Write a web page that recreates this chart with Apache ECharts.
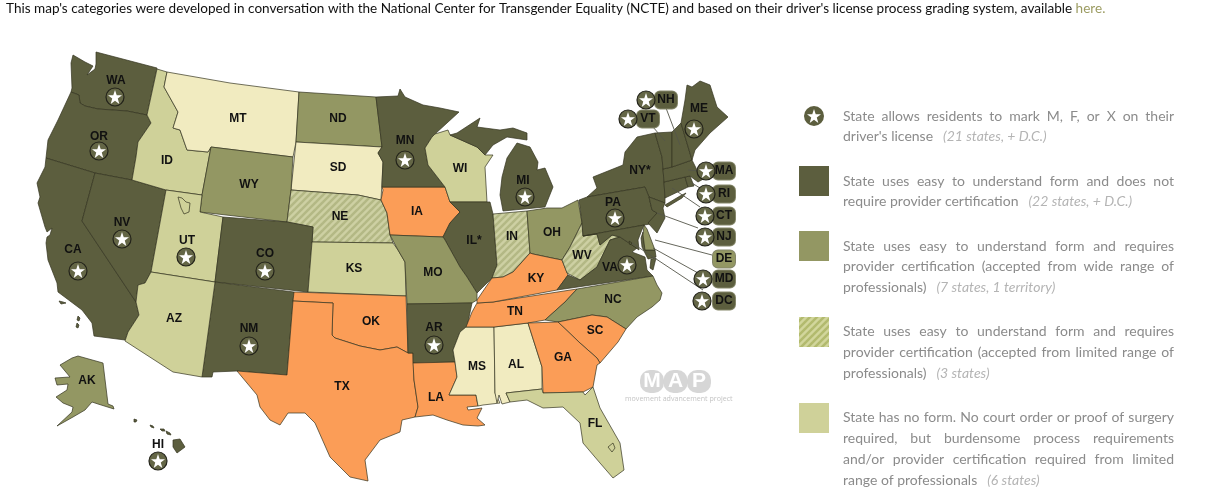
<!DOCTYPE html>
<html><head><meta charset="utf-8">
<style>html,body{margin:0;padding:0;background:#fff}#c{width:1230px;height:500px}</style>
<script src="https://cdn.jsdelivr.net/npm/echarts@6/dist/echarts.min.js"></script>
</head><body><div id="c"></div>
<script>
const CAT_DARK = ['WA','OR','CA','NV','CO','NM','AR','MN','MI','IL','NY','PA','VA','ME','NH','VT','MA','RI','CT','NJ','MD','DC','HI'];
const CAT_MID = ['ND','WY','MO','OH','NC','AK','DE'];
const CAT_HATCH = ['NE','IN','WV'];
const CAT_NOFORM = ['ID','UT','KS','AZ','WI','FL'];
const CAT_CREAM = ['MT','SD','MS','AL'];
const CAT_ORANGE = ['IA','OK','TX','LA','KY','TN','GA','SC'];
const STAR_STATES = ['WA','OR','CA','NV','UT','CO','NM','AR','MN','MI','PA','VA','ME','HI'];
const CALLOUT_STARS = ['NH','VT','MA','RI','CT','NJ','MD','DC'];
const CALLOUTS = ['NH','VT','MA','RI','CT','NJ','DE','MD','DC'];
const PLAIN_LABELS = {IL:'IL*',NY:'NY*'};

const SHAPES = {
WA:[[[96,52],[157,68],[147,115],[127,111],[98,109],[85,106],[80,103],[79,95],[71,92],[72,88],[71,63],[73,55],[85,62],[93,66],[87,75],[95,69],[96,64]]],
OR:[[[71,92],[79,95],[80,103],[85,106],[98,109],[127,111],[147,115],[151,123],[138,142],[136,157],[132,180],[95,173],[46,158],[48,140],[58,120]]],
CA:[[[46,158],[95,173],[82,221],[136,302],[139,315],[128,332],[125,340],[94,336],[92,323],[82,310],[58,292],[57,283],[48,260],[46,243],[47,237],[50,235],[52,228],[47,232],[45,227],[38,203],[40,197],[37,183],[45,167]],[[59,301],[63,302],[66,303],[61,304]],[[78,316],[80,318],[79,321],[77,320]],[[77,323],[79,325],[78,328],[76,327]]],
NV:[[[95,173],[132,180],[166,190],[151,272],[145,283],[138,285],[136,302],[82,221]]],
ID:[[[157,69],[167,72],[164,87],[178,112],[173,128],[180,130],[187,150],[208,152],[211,147],[202,195],[166,190],[132,180],[136,157],[138,142],[151,123],[147,115]]],
MT:[[[167,72],[230,83],[299,92],[296,142],[293,157],[211,147],[208,152],[187,150],[180,130],[173,128],[178,112],[164,87]]],
ND:[[[299,92],[376,97],[382,147],[296,142]]],
SD:[[[296,142],[382,147],[378,153],[383,162],[381,200],[358,195],[291,190]]],
WY:[[[211,147],[293,157],[291,190],[287,222],[200,212],[202,195]]],
NE:[[[291,190],[358,195],[381,200],[387,213],[390,235],[393,243],[312,242],[313,227],[287,222]]],
UT:[[[166,190],[202,195],[200,212],[223,217],[215,282],[151,272]],[[178,197],[182,198],[186,202],[190,203],[189,212],[184,214],[181,208]]],
CO:[[[223,217],[287,222],[313,227],[312,242],[308,292],[215,282]]],
KS:[[[312,242],[393,243],[398,250],[405,262],[406,296],[308,292]]],
NM:[[[215,282],[294,292],[293,301],[287,375],[237,371],[213,372],[212,377],[202,377]]],
AZ:[[[151,272],[215,282],[202,377],[173,372],[125,341],[128,332],[139,315],[136,302],[138,285],[145,283]]],
OK:[[[294,292],[406,296],[408,353],[397,347],[380,350],[360,346],[335,338],[332,335],[333,303],[293,301]]],
TX:[[[293,301],[333,303],[332,335],[335,338],[360,346],[380,350],[397,347],[408,353],[413,353],[414,380],[418,407],[415,417],[402,420],[400,432],[380,440],[365,460],[368,481],[350,477],[330,457],[315,423],[305,413],[288,413],[280,425],[270,420],[260,407],[257,395],[237,371],[287,375]]],
IA:[[[382,187],[445,187],[450,202],[460,212],[450,223],[443,237],[390,235],[387,213],[381,200],[383,190]]],
MN:[[[376,97],[398,96],[400,89],[405,97],[423,105],[440,108],[459,112],[435,134],[432,137],[425,148],[428,165],[445,187],[382,187],[383,162],[378,153],[382,147]]],
WI:[[[435,134],[448,130],[450,135],[477,147],[485,155],[493,155],[485,167],[487,202],[450,202],[445,187],[428,165],[425,148],[432,137]]],
IL:[[[450,202],[490,202],[493,214],[497,265],[492,278],[483,287],[477,293],[467,277],[460,267],[445,240],[443,237],[450,223],[460,212]]],
IN:[[[493,214],[527,211],[530,253],[513,272],[503,277],[492,278],[497,265]]],
OH:[[[527,211],[547,208],[562,208],[578,200],[582,223],[570,247],[562,260],[552,258],[533,254],[530,253]]],
MI:[[[503,211],[545,207],[553,187],[545,168],[537,170],[538,162],[530,147],[517,143],[507,158],[502,177],[500,195]],[[457,133],[480,118],[477,127],[500,130],[513,128],[527,133],[527,140],[507,137],[493,145],[485,155],[477,147],[450,135]]],
MO:[[[390,235],[443,237],[445,240],[460,267],[467,277],[477,293],[477,300],[472,303],[407,304],[405,262],[398,250]]],
AR:[[[407,304],[472,303],[473,304],[467,327],[460,332],[453,350],[455,362],[413,363],[413,353],[408,353]]],
LA:[[[413,363],[455,362],[457,377],[449,395],[476,395],[478,406],[467,407],[468,410],[482,408],[477,418],[485,425],[478,426],[463,425],[447,420],[433,415],[415,417],[418,407],[414,380]]],
MS:[[[466,327],[494,327],[495,393],[500,403],[483,405],[478,406],[476,395],[449,395],[457,377],[455,362],[453,350],[460,332]]],
AL:[[[494,327],[528,323],[542,367],[542,389],[506,393],[510,402],[502,404],[499,395],[497,403],[495,393]]],
TN:[[[477,303],[493,302],[577,289],[565,302],[545,320],[528,323],[494,327],[466,327],[472,312]]],
KY:[[[477,300],[492,278],[503,277],[513,272],[530,253],[533,254],[552,258],[562,260],[568,275],[557,290],[493,302],[477,303]]],
WV:[[[582,223],[583,236],[597,234],[600,245],[612,235],[620,237],[610,240],[597,267],[580,280],[567,273],[562,260],[570,247]]],
VA:[[[557,290],[568,275],[580,280],[597,267],[610,240],[620,237],[629,243],[637,248],[632,252],[645,257],[647,270],[653,276]],[[651,259],[656,258],[653,270],[650,268]]],
NC:[[[545,320],[565,302],[577,289],[653,276],[657,285],[662,293],[660,300],[652,307],[637,317],[626,329],[607,317],[592,315],[558,322]]],
SC:[[[558,322],[592,315],[607,317],[626,329],[618,342],[600,363],[597,358],[580,343]]],
GA:[[[528,323],[558,322],[580,343],[597,358],[600,363],[597,365],[593,387],[583,392],[543,393],[542,367]]],
FL:[[[506,393],[542,389],[543,393],[583,392],[585,395],[593,387],[600,408],[620,443],[624,470],[613,478],[600,463],[583,443],[580,423],[563,407],[543,408],[527,400],[510,402]],[[608,447],[613,443],[615,448],[612,452]]],
NY:[[[655,133],[637,137],[625,152],[623,165],[593,177],[597,188],[587,197],[645,187],[649,197],[665,203],[665,198],[664,182],[663,169],[662,157]],[[665,205],[680,196],[686,193],[682,198],[667,207]]],
PA:[[[579,200],[587,197],[645,187],[649,197],[652,210],[657,213],[650,224],[583,236],[582,223]]],
NJ:[[[649,197],[665,203],[663,208],[665,218],[657,233],[648,223],[657,213],[652,210]]],
CT:[[[664,182],[685,177],[688,187],[665,198]]],
RI:[[[685,177],[690,176],[694,186],[688,187]]],
MA:[[[663,169],[672,167],[692,160],[700,176],[707,177],[698,182],[690,176],[685,177],[664,182]]],
VT:[[[655,133],[672,132],[672,167],[663,169],[662,157]]],
NH:[[[672,132],[681,123],[692,160],[672,167]]],
ME:[[[681,123],[685,100],[687,85],[692,87],[700,81],[710,85],[717,107],[728,117],[710,133],[695,150],[692,160]]],
MD:[[[583,236],[644,225],[641,232],[638,240],[639,250],[629,243],[620,237],[612,235],[600,245],[597,234]],[[645,250],[655,250],[656,257],[648,259],[642,247],[641,238],[643,232]]],
DE:[[[644,225],[647,229],[655,250],[645,250],[643,235]]],
DC:[[[629,241],[632,243],[630,245]]],
HI:[[[173,440],[180,439],[185,447],[177,453],[173,447]],[[134,419],[137,420],[136,422],[134,422]],[[150,425],[153,426],[154,428],[151,427]],[[160,429],[164,429],[165,431],[162,431]],[[166,431],[170,433],[171,435],[167,434]]],
AK:[[[78,356],[103,363],[108,404],[113,406],[114,409],[98,404],[92,402],[85,410],[73,417],[57,426],[72,412],[73,407],[63,403],[56,397],[67,390],[68,384],[57,385],[55,378],[70,377],[60,365],[72,358]]]
};

const LABEL_POS = {WA:[116,81],OR:[99,137],CA:[73,250],NV:[122,223],ID:[167,161],MT:[238,119],ND:[338,119],SD:[338,168],WY:[249,185],NE:[340,217],UT:[187,241],CO:[265,254],AZ:[174,319],NM:[249,329],KS:[354,269],OK:[371,322],TX:[342,387],LA:[436,398],AR:[434,328],MO:[433,273],IA:[417,212],MN:[405,141],WI:[460,169],IL:[474,241],IN:[512,237],MI:[523,181],OH:[552,233],KY:[536,279],TN:[515,312],MS:[477,367],AL:[516,365],GA:[563,358],SC:[595,331],FL:[595,424],NC:[613,300],VA:[610,268],WV:[582,256],PA:[613,203],NY:[640,171],ME:[699,109],AK:[87,381],HI:[158,445]};
const STAR_POS = {WA:[115,97],OR:[99,151],CA:[78,271],NV:[122,239],UT:[186,257],CO:[265,271],NM:[249,346],AR:[434,345],MN:[405,160],MI:[525,197],PA:[615,218],VA:[627,265],ME:[694,129],HI:[158,461],
 NH:[646,100],VT:[628,119],MA:[706,171],RI:[706,194],CT:[705,216],NJ:[705,237],MD:[703,279],DC:[702,301]};
const BOX_POS = {NH:[666,100],VT:[648,119],MA:[724,171],RI:[724,194],CT:[724,216],NJ:[724,237],DE:[724,259],MD:[724,279],DC:[724,301]};
const LEADERS = [[[666,108],[680,145]],[[653,127],[665,141]],[[700,171],[688,170]],[[703,190],[692,183]],[[700,207],[672,188]],[[698,228],[657,213]],[[712,255],[655,240]],[[698,273],[653,248]],[[703,290],[632,243]]];

const TITLE_TEXT = "This map's categories were developed in conversation with the National Center for Transgender Equality (NCTE) and based on their driver's license process grading system, available ";
const TITLE_LINK = "here.";
const LEGEND_ROWS = [
 {lines:["State allows residents to mark M, F, or X on their","driver's license"],note:"(21 states, + D.C.)",ys:[116,136]},
 {lines:["State uses easy to understand form and does not","require provider certification"],note:"(22 states, + D.C.)",ys:[181,201]},
 {lines:["State uses easy to understand form and requires","provider certification (accepted from wide range of","professionals)"],note:"(7 states, 1 territory)",ys:[246,266,287]},
 {lines:["State uses easy to understand form and requires","provider certification (accepted from limited range of","professionals)"],note:"(3 states)",ys:[331,352,373]},
 {lines:["State has no form. No court order or proof of surgery","required, but burdensome process requirements","and/or provider certification required from limited","range of professionals"],note:"(6 states)",ys:[417,438,459,480]}
];

const C = {dark:'#5c5e3e',mid:'#939763',noform:'#cfd199',cream:'#f1ebc0',orange:'#fb9d57',line:'#33331f',text:'#8b8b8b',note:'#b4b4b4'};
function hatch(bg,fg,size){
  const cv=document.createElement('canvas');cv.width=cv.height=size;const g=cv.getContext('2d');
  g.fillStyle=bg;g.fillRect(0,0,size,size);g.strokeStyle=fg;g.lineWidth=size*0.36;
  for(const o of [-size,0,size]){g.beginPath();g.moveTo(o-2,size+2);g.lineTo(o+size+2,-2);g.stroke();}
  return {image:cv,repeat:'repeat'};
}
const HATCH_MAP=hatch('#cdd0a3','#b3b885',7), HATCH_KEY=hatch('#d2d69c','#b2ba6e',7);

const fillOf={};
CAT_DARK.forEach(n=>fillOf[n]=C.dark);CAT_MID.forEach(n=>fillOf[n]=C.mid);CAT_HATCH.forEach(n=>fillOf[n]=HATCH_MAP);
CAT_NOFORM.forEach(n=>fillOf[n]=C.noform);CAT_CREAM.forEach(n=>fillOf[n]=C.cream);CAT_ORANGE.forEach(n=>fillOf[n]=C.orange);

const HOLES={UT:1,FL:1};
const geoJSON={type:'FeatureCollection',features:Object.keys(SHAPES).map(n=>{
  const rings=SHAPES[n];const close=r=>r.concat([r[0]]);
  const geometry=HOLES[n]?{type:'Polygon',coordinates:rings.map(close)}:{type:'MultiPolygon',coordinates:rings.map(r=>[close(r)])};
  return {type:'Feature',properties:{name:n},geometry};
})};
echarts.registerMap('us',geoJSON);

const STAR='path://M50 2 L61.8 36 L98 36 L69 58 L79.5 93 L50 72 L20.5 93 L31 58 L2 36 L38.2 36 Z';
const LATO='Lato, "Open Sans", sans-serif';
const FS=14;
const meas=document.createElement('canvas').getContext('2d');
meas.font=FS+'px '+LATO;
const gr=[];
function txt(t,x,y,fill,font){gr.push({type:'text',silent:true,z:10,style:{text:t,x,y,fill,font:font||(FS+'px '+LATO),textVerticalAlign:'middle'}});}
const LX=843,LW=331;
LEGEND_ROWS.forEach(row=>{
  row.lines.forEach((l,i)=>{
    const y=row.ys[i];
    if(i<row.lines.length-1){
      const words=l.split(' ');const tot=words.reduce((a,w)=>a+meas.measureText(w).width,0);
      const gap=(LW-tot)/(words.length-1);let x=LX;
      words.forEach(w=>{txt(w,x,y,C.text);x+=meas.measureText(w).width+gap;});
    }else{
      txt(l,LX,y,C.text);
      txt(row.note,LX+meas.measureText(l).width+10,y,C.note,'italic '+FS+'px '+LATO);
    }
  });
});
[[166,C.dark],[231,C.mid],[317,HATCH_KEY],[403,C.noform]].forEach(s=>gr.push({type:'rect',silent:true,shape:{x:799,y:s[0],width:30,height:30},style:{fill:s[1]}}));
const TF='13.55px '+LATO;
meas.font=TF;
txt(TITLE_TEXT,6,8.5,'#111',TF);
txt(TITLE_LINK,6+meas.measureText(TITLE_TEXT).width,8.5,'#9c9c62',TF);
[['M',652],['A',675.5],['P',699]].forEach(a=>{
  gr.push({type:'rect',silent:true,z:3,shape:{x:a[1]-12,y:370,width:24,height:23,r:10},style:{fill:'#d4d4d4',opacity:0.95}});
  gr.push({type:'text',silent:true,z:4,style:{text:a[0],x:a[1],y:381.5,fill:'#fff',font:'bold 21px "Liberation Sans",sans-serif',textAlign:'center',textVerticalAlign:'middle'}});
});
gr.push({type:'text',silent:true,z:4,style:{text:'movement advancement project',x:625,y:399,fill:'#c4c4c4',font:'7.1px "Open Sans",sans-serif',textVerticalAlign:'middle'}});

const labelStyle={show:true,position:'inside',color:'#111',fontFamily:'"Liberation Sans",Arial,sans-serif',fontWeight:'bold',fontSize:12};
const chart=echarts.init(document.getElementById('c'),null,{renderer:'canvas'});
const starNames=STAR_STATES.concat(CALLOUT_STARS);
const LEGEND_STAR=[814,116];
chart.setOption({
  animation:false,
  backgroundColor:'#fff',
  graphic:gr,
  geo:{map:'us',roam:false,silent:true,left:0,top:0,width:1230,height:500,
    projection:{project:p=>[p[0],p[1]],unproject:p=>[p[0],p[1]]},
    boundingCoords:[[0,0],[1230,500]],
    label:{show:false},
    itemStyle:{borderColor:C.line,borderWidth:0.7,areaColor:'#fff'},
    regions:Object.keys(SHAPES).map(n=>({name:n,itemStyle:{areaColor:fillOf[n]}}))
  },
  series:[
    {type:'lines',coordinateSystem:'geo',silent:true,z:3,lineStyle:{color:'#55564a',width:0.9,opacity:1},data:LEADERS.map(c=>({coords:c}))},
    {type:'scatter',name:'callouts',coordinateSystem:'geo',silent:true,z:4,symbolSize:1,itemStyle:{color:'transparent',opacity:1},
      label:Object.assign({},labelStyle,{formatter:'{b}',borderRadius:5,borderWidth:1,borderColor:'#85876a',padding:[3,2,2,2],width:18,height:12,align:'center',verticalAlign:'middle',lineHeight:12}),
      data:CALLOUTS.map(n=>({name:n,value:BOX_POS[n],label:{backgroundColor:fillOf[n]}}))},
    {type:'scatter',name:'badge',coordinateSystem:'geo',silent:true,z:5,symbol:'circle',symbolSize:18,
      itemStyle:{color:'#646646',borderColor:'#23231a',borderWidth:1.2,opacity:1},
      data:starNames.map(n=>({name:n,value:STAR_POS[n]})).concat([{name:'key',value:LEGEND_STAR,symbolSize:20,itemStyle:{color:C.dark,borderWidth:0,opacity:1}}])},
    {type:'scatter',name:'star',coordinateSystem:'geo',silent:true,z:6,symbol:STAR,symbolSize:14,itemStyle:{color:'#fff',opacity:1},
      data:starNames.map(n=>({name:n,value:STAR_POS[n]})).concat([{name:'key',value:LEGEND_STAR}])},
    {type:'scatter',name:'labels',coordinateSystem:'geo',silent:true,z:7,symbolSize:1,itemStyle:{color:'transparent',opacity:1},
      label:Object.assign({},labelStyle,{formatter:p=>PLAIN_LABELS[p.name]||p.name}),
      data:Object.keys(LABEL_POS).map(n=>({name:n,value:LABEL_POS[n]}))}
  ]
});
</script></body></html>
